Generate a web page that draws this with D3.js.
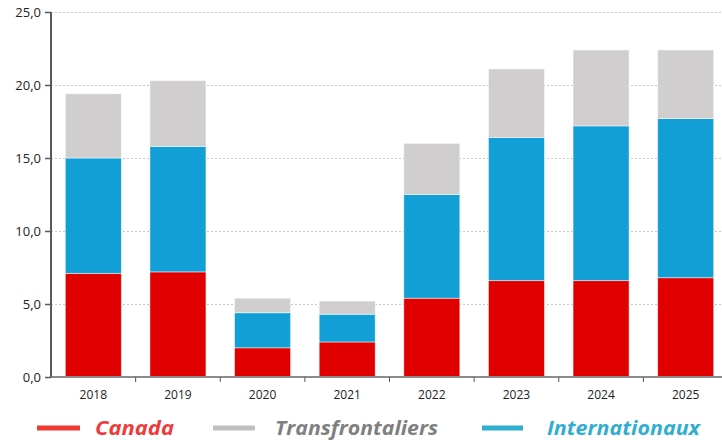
<!DOCTYPE html>
<html>
<head>
<meta charset="utf-8">
<script src="https://cdn.jsdelivr.net/npm/d3@7"></script>
<style>
  body { margin: 0; background: #fff; }
  svg { display: block; }
</style>
</head>
<body>
<div id="chart"></div>
<script>
// data
const years = ["2018", "2019", "2020", "2021", "2022", "2023", "2024", "2025"];
const canada = [7.1, 7.2, 2.0, 2.4, 5.4, 6.6, 6.6, 6.8];
const internationaux = [7.9, 8.6, 2.4, 1.9, 7.1, 9.8, 10.6, 10.9];
const transfrontaliers = [4.4, 4.5, 1.0, 0.9, 3.5, 4.7, 5.2, 4.7];
const yTicks = [0, 5, 10, 15, 20, 25];

const seriesKeys = ["canada", "internationaux", "transfrontaliers"];
const colors = { canada: "#e00000", internationaux: "#119fd6", transfrontaliers: "#d0cecf" };

const width = 722, height = 440;
const margin = { top: 12, right: -6, bottom: 63, left: 51 };

const rows = years.map((y, i) => ({
  year: y,
  canada: canada[i],
  internationaux: internationaux[i],
  transfrontaliers: transfrontaliers[i]
}));

const svg = d3.select("#chart").append("svg")
  .attr("width", width)
  .attr("height", height);

const x = d3.scaleBand()
  .domain(years)
  .range([margin.left, width - margin.right])
  .paddingInner(0.338)
  .paddingOuter(0.169);

const y = d3.scaleLinear()
  .domain([0, 25])
  .range([height - margin.bottom, margin.top]);

// gridlines
svg.append("g")
  .selectAll("line")
  .data(yTicks.slice(1))
  .join("line")
  .attr("x1", margin.left)
  .attr("x2", width)
  .attr("y1", d => Math.round(y(d)) + 0.5)
  .attr("y2", d => Math.round(y(d)) + 0.5)
  .attr("stroke", "#c8c8c8")
  .attr("stroke-width", 1)
  .attr("stroke-dasharray", "2,2");

// stacked bars
const stack = d3.stack().keys(seriesKeys)(rows);

svg.append("g")
  .selectAll("g")
  .data(stack)
  .join("g")
  .attr("fill", d => colors[d.key])
  .selectAll("rect")
  .data(d => d)
  .join("rect")
  .attr("x", d => x(d.data.year))
  .attr("width", x.bandwidth())
  .attr("y", d => y(d[1]))
  .attr("height", d => y(d[0]) - y(d[1]))
  .attr("stroke", "rgba(255,255,255,0.6)")
  .attr("stroke-width", 0.8);

// x axis
const xAxis = svg.append("g")
  .attr("transform", `translate(0, ${y(0)})`);

xAxis.append("line")
  .attr("x1", margin.left)
  .attr("x2", width)
  .attr("stroke", "#8c8c8c")
  .attr("stroke-width", 2);

xAxis.selectAll(".xtick")
  .data(years.slice(1))
  .join("line")
  .attr("class", "xtick")
  .attr("x1", d => x(d) - x.step() * x.paddingInner() / 2)
  .attr("x2", d => x(d) - x.step() * x.paddingInner() / 2)
  .attr("y1", 0)
  .attr("y2", 5)
  .attr("stroke", "#555")
  .attr("stroke-width", 1);

xAxis.selectAll("text")
  .data(years)
  .join("text")
  .attr("x", d => x(d) + x.bandwidth() / 2)
  .attr("y", 22)
  .attr("text-anchor", "middle")
  .attr("font-family", "'Open Sans', sans-serif")
  .attr("font-size", 12)
  .attr("fill", "#222")
  .text(d => d);

// y axis
const yAxis = svg.append("g")
  .attr("transform", `translate(${margin.left}, 0)`)
  .call(d3.axisLeft(y)
    .tickValues(yTicks)
    .tickSize(6)
    .tickFormat(d => d3.format(".1f")(d).replace(".", ",")));

yAxis.select(".domain")
  .attr("stroke", "#595959")
  .attr("stroke-width", 2)
  .attr("d", `M0,${y(25)}V${y(0)}`);

yAxis.selectAll(".tick line").attr("stroke", "#595959").attr("stroke-width", 1.5);
yAxis.selectAll(".tick text")
  .attr("x", -10)
  .attr("font-family", "'Open Sans', sans-serif")
  .attr("font-size", 13)
  .attr("fill", "#222");

// legend
const legendItems = [
  { label: "Canada", line: "#ee3b33", text: "#ee3b3b", x1: 37, x2: 80, tx: 95, tw: 79 },
  { label: "Transfrontaliers", line: "#bfbfbf", text: "#7f7f7f", x1: 213, x2: 255, tx: 275, tw: 163 },
  { label: "Internationaux", line: "#31aecf", text: "#31aecf", x1: 482, x2: 523, tx: 547, tw: 153 }
];

const legend = svg.append("g").attr("transform", "translate(0, 428)");

legend.selectAll("line")
  .data(legendItems)
  .join("line")
  .attr("x1", d => d.x1)
  .attr("x2", d => d.x2)
  .attr("stroke", d => d.line)
  .attr("stroke-width", 5);

legend.selectAll("text")
  .data(legendItems)
  .join("text")
  .attr("x", d => d.tx)
  .attr("y", 7)
  .attr("font-family", "'Open Sans', sans-serif")
  .attr("font-weight", "bold")
  .attr("font-style", "italic")
  .attr("font-size", 20)
  .attr("fill", d => d.text)
  .attr("textLength", d => d.tw)
  .attr("lengthAdjust", "spacingAndGlyphs")
  .text(d => d.label);
</script>
</body>
</html>
